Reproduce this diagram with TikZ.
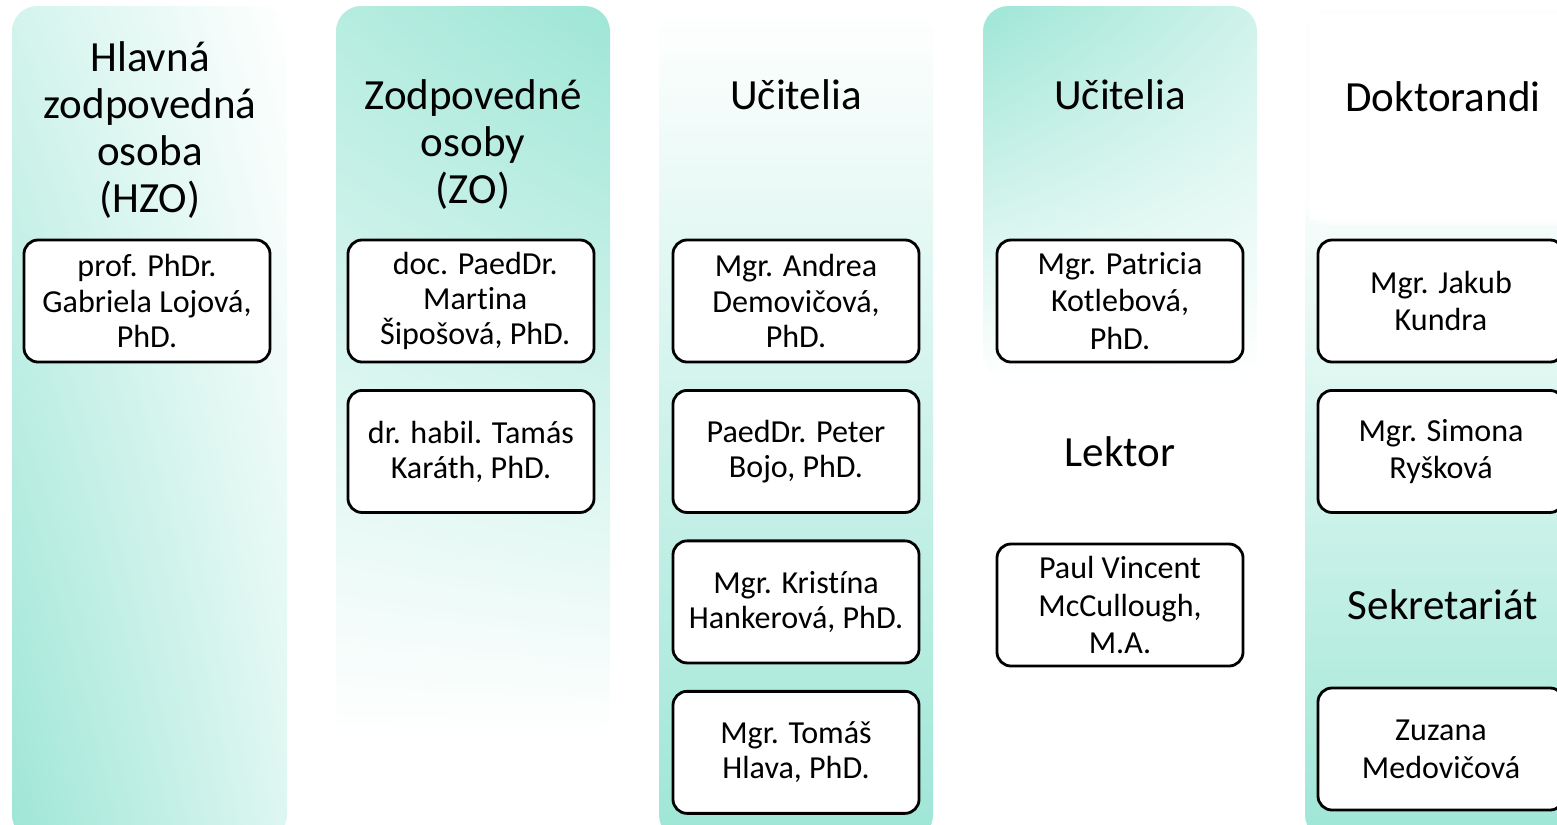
\documentclass[tikz,border=0pt]{standalone}
\usepackage{fontspec}
\setmainfont{Carlito}[Ligatures=NoCommon]
\usetikzlibrary{positioning,shadings}
\definecolor{mint}{RGB}{158,230,214}
\tikzset{every picture/.append style={x=0.025cm,y=-0.025cm}}
\tikzset{panel/.style={rounded corners=18pt}}
\tikzset{person/.style={draw, line width=2pt, rounded corners=10pt, fill=white, minimum width=6.15cm, minimum height=3.05cm, inner sep=0pt, align=center, font=\fontsize{22.8}{24.9}\selectfont}}
\tikzset{loose/.style={person, font=\fontsize{22.8}{26.8}\selectfont}}
\tikzset{heading/.style={align=center, font=\fontsize{30.6}{33.4}\selectfont}}
\tikzset{stack/.style={below=0.64cm of #1}}

\begin{document}
\begin{tikzpicture}
\useasboundingbox (0,0) rectangle (1557,824);
% column backgrounds
\shade[panel, upper left=mint!45, upper right=white, lower left=mint, lower right=mint!35] (12,6) rectangle (287,840);
\shade[panel, upper left=mint!75, upper right=mint, lower left=white, lower right=white] (336,6) rectangle (610,740);
\shade[panel, top color=white, middle color=mint!40, bottom color=mint] (659,6) rectangle (933,840);
\shade[panel, upper left=mint, upper right=mint!50, lower left=white, lower right=white] (983,6) rectangle (1257,380);
\shade[panel, top color=white, middle color=mint!35, bottom color=mint] (1305,150) rectangle (1600,840);
\fill[panel, white!97!mint] (1305,10) rectangle (1600,225);
\fill[white] (1310,14) rectangle (1600,220);

% headings
\node (hzo) at (150,130)[heading]{Hlavná\\zodpovedná\\osoba\\(HZO)};
\node (zo) at (473,145)[heading]{Zodpovedné\\osoby\\(ZO)};
\node (uca) at (796,95)[heading]{Učitelia};
\node (ucb) at (1120,95)[heading]{Učitelia};
\node (dok) at (1443,97)[heading]{Doktorandi};
\node (lek) at (1120,452)[heading, fill=white, rounded corners=12pt, minimum width=6.1cm, minimum height=3.05cm]{Lektor};
\node (sek) at (1443,605)[heading]{Sekretariát};

% people
\node (hzo1) at (147,301)[person]{prof. PhDr.\\Gabriela Lojová,\\PhD.};

\node (zo1) at (471,301)[person]{\hspace{6pt}doc. PaedDr.\\\hspace{6pt}Martina\\\hspace{6pt}Šipošová, PhD.};
\node (zo2) [person, stack=zo1]{dr. habil. Tamás\\Karáth, PhD.};

\node (uc1) at (796,301)[person]{Mgr. Andrea\\Demovičová,\\PhD.};
\node (uc2) [person, stack=uc1]{PaedDr. Peter\\Bojo, PhD.};
\node (uc3) [person, stack=uc2]{Mgr. Kristína\\Hankerová, PhD.};
\node (uc4) [person, stack=uc3]{Mgr. Tomáš\\Hlava, PhD.};

\node (uc5) at (1120,301)[loose]{Mgr. Patricia\\Kotlebová,\\PhD.};
\node (lek1) at (1120,605)[loose]{Paul Vincent\\McCullough,\\M.A.};

\node (dok1) at (1441,301)[loose]{Mgr. Jakub\\Kundra};
\node (dok2) [loose, stack=dok1]{Mgr. Simona\\Ryšková};
\node (sek1) at (1441,749)[loose]{Zuzana\\Medovičová};
\end{tikzpicture}
\end{document}
